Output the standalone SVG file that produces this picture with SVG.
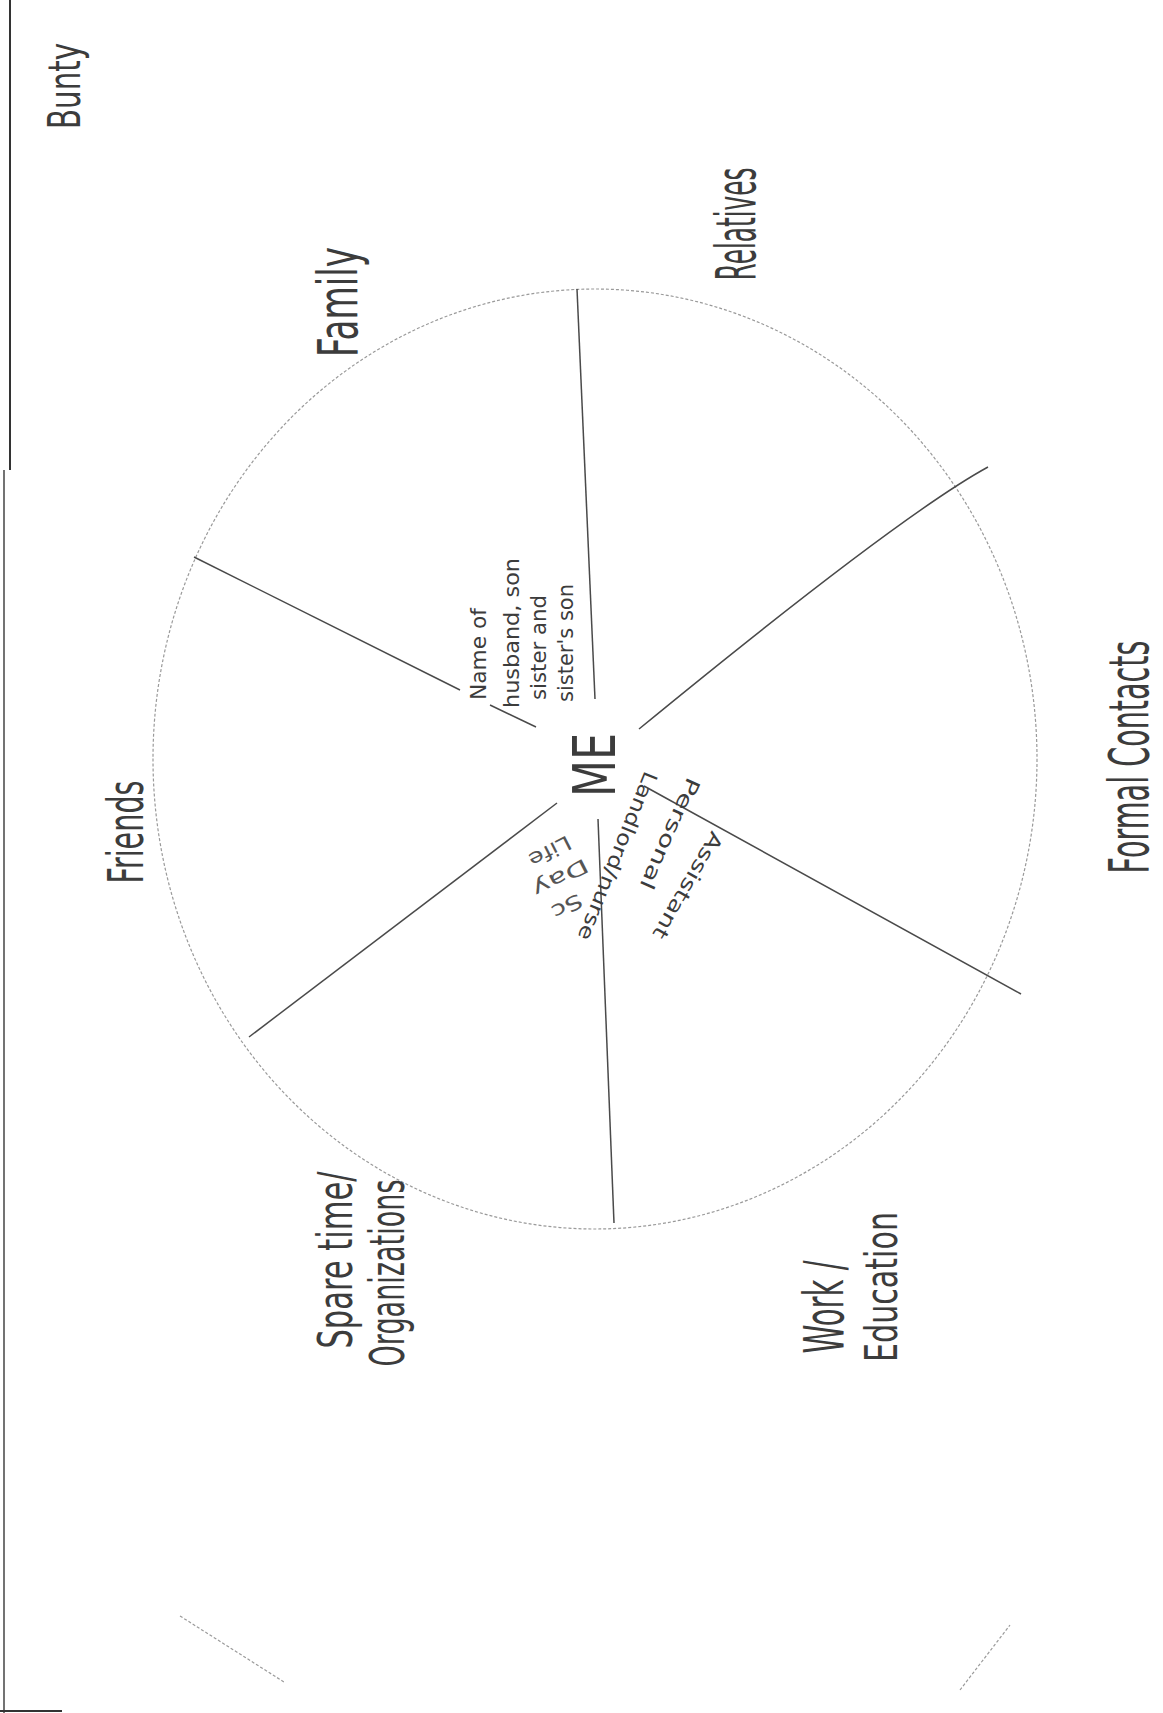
<svg xmlns="http://www.w3.org/2000/svg" width="1163" height="1713" viewBox="0 0 1163 1713">
<style>
.hand{font-family:"DejaVu Sans","Liberation Sans",sans-serif;fill:#3c3c3c;font-weight:normal}
.small{font-size:22px}
.mid{font-size:20px}
.tiny{font-size:20px;fill:#555}
.spoke{stroke:#4a4a4a;stroke-width:1.5;fill:none}
.faint{stroke:#9a9a9a;stroke-width:1.2;fill:none;stroke-dasharray:3 2}
</style>
<rect width="1163" height="1713" fill="#ffffff"/>
<g id="border">
<line x1="10" y1="0" x2="10" y2="470" stroke="#333" stroke-width="2"/>
<line x1="4" y1="470" x2="4" y2="1713" stroke="#444" stroke-width="1.5"/>
<line x1="0" y1="1711" x2="62" y2="1711" stroke="#333" stroke-width="2"/>
</g>
<g id="circle">
<ellipse cx="595" cy="759" rx="442" ry="470" class="faint"/>
</g>
<g id="connectors">
<path class="spoke" d="M577 289 L595 699"/>
<path class="spoke" d="M988 467 Q900 515 639 729"/>
<path class="spoke" d="M1021 994 L644 786"/>
<path class="spoke" d="M598 819 L614 1223"/>
<path class="spoke" d="M249 1037 L557 803"/>
<path class="spoke" d="M194 557 L460 690"/>
<path class="spoke" d="M490 705 L536 727"/>
<path class="faint" d="M180 1616 L284 1682"/>
<path class="faint" d="M960 1690 L1010 1625"/>
</g>
<g id="bunty"><text class="hand" font-size="44" transform="translate(80 86) rotate(-90)" text-anchor="middle" textLength="86" lengthAdjust="spacingAndGlyphs">Bunty</text></g>
<g id="family"><text class="hand" font-size="55" transform="translate(357 302) rotate(-90)" text-anchor="middle" textLength="110" lengthAdjust="spacingAndGlyphs">Family</text></g>
<g id="relatives"><text class="hand" font-size="55" transform="translate(755 224) rotate(-90)" text-anchor="middle" textLength="113" lengthAdjust="spacingAndGlyphs">Relatives</text></g>
<g id="friends"><text class="hand" font-size="50" transform="translate(143 832) rotate(-90)" text-anchor="middle" textLength="103" lengthAdjust="spacingAndGlyphs">Friends</text></g>
<g id="formal-contacts"><text class="hand" font-size="55" transform="translate(1148 757) rotate(-90)" text-anchor="middle" textLength="233" lengthAdjust="spacingAndGlyphs">Formal Contacts</text></g>
<g id="spare-time"><text class="hand" font-size="48" transform="translate(352 1260) rotate(-90)" text-anchor="middle" textLength="177" lengthAdjust="spacingAndGlyphs">Spare time/</text>
<text class="hand" font-size="48" transform="translate(404 1273) rotate(-90)" text-anchor="middle" textLength="187" lengthAdjust="spacingAndGlyphs">Organizations</text></g>
<g id="work-education"><text class="hand" font-size="55" transform="translate(843 1307) rotate(-90)" text-anchor="middle" textLength="93" lengthAdjust="spacingAndGlyphs">Work /</text>
<text class="hand" font-size="45" transform="translate(897 1287) rotate(-90)" text-anchor="middle" textLength="150" lengthAdjust="spacingAndGlyphs">Education</text></g>
<g id="me"><text class="hand" font-size="58" transform="translate(615 765) rotate(-90)" text-anchor="middle" textLength="64" lengthAdjust="spacingAndGlyphs">ME</text></g>
<g id="family-names">
<text class="hand small" transform="translate(486 700) rotate(-90)" textLength="92" lengthAdjust="spacingAndGlyphs">Name of</text>
<text class="hand small" transform="translate(519 708) rotate(-90)" textLength="150" lengthAdjust="spacingAndGlyphs">husband, son</text>
<text class="hand small" transform="translate(546 700) rotate(-90)" textLength="105" lengthAdjust="spacingAndGlyphs">sister and</text>
<text class="hand small" transform="translate(573 702) rotate(-90)" textLength="118" lengthAdjust="spacingAndGlyphs">sister's son</text>
</g>
<g id="formal-names">
<text class="hand mid" transform="translate(645 770) rotate(112)" textLength="180" lengthAdjust="spacingAndGlyphs">Landlord/nurse</text>
<text class="hand mid" transform="translate(688 776) rotate(114)" textLength="120" lengthAdjust="spacingAndGlyphs">Personal</text>
<text class="hand mid" transform="translate(712 830) rotate(120)" textLength="120" lengthAdjust="spacingAndGlyphs">Assistant</text>
</g>
<g id="spare-names">
<text class="hand tiny" transform="translate(567 835) rotate(153)" textLength="45" lengthAdjust="spacingAndGlyphs">Life</text>
<text class="hand tiny" transform="translate(584 858) rotate(153)" textLength="60" lengthAdjust="spacingAndGlyphs">Day</text>
<text class="hand tiny" transform="translate(578 893) rotate(153)" textLength="32" lengthAdjust="spacingAndGlyphs">Sc</text>
</g>
</svg>
